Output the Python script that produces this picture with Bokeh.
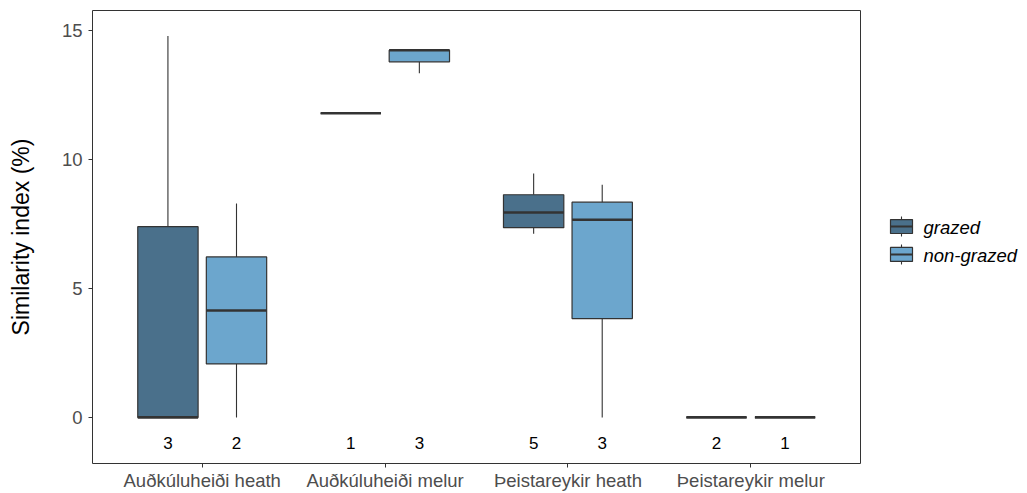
import numpy as np
from bokeh.plotting import figure
from bokeh.layouts import row
from bokeh.models import Range1d, FixedTicker, ColumnDataSource
from bokeh.core.properties import value
from bokeh.embed import file_html
from bokeh.resources import INLINE

# ---------------- data ----------------
sites = ["Auðkúluheiði heath", "Auðkúluheiði melur", "Þeistareykir heath", "Þeistareykir melur"]
treatments = ["grazed", "non-grazed"]
colors = ["#4A708B", "#6CA6CD"]

grazed_values = [
    [0.0, 0.0, 14.8],
    [11.8],
    [7.13, 7.36, 7.95, 8.64, 9.46],
    [0.0, 0.0],
]
nongrazed_values = [
    [0.0, 8.3],
    [13.35, 14.25, 14.25],
    [0.0, 7.67, 9.03],
    [0.0],
]
y_ticks = [0, 5, 10, 15]
y_title = "Similarity index (%)"
count_label_y = -1.0

FONT = "Liberation Sans"
LINE = "#333333"
TOP, BOTTOM = 10, 28   # shared borders so both frames line up


def box_stats(vals):
    v = np.sort(np.asarray(vals, dtype=float))
    q1, med, q3 = np.percentile(v, [25, 50, 75])
    iqr = q3 - q1
    lo = v[v >= q1 - 1.5 * iqr].min()
    hi = v[v <= q3 + 1.5 * iqr].max()
    return q1, med, q3, lo, hi


# ---------------- main panel ----------------
p = figure(width=862, height=493, output_backend="svg", toolbar_location=None,
           x_range=Range1d(0.4, 4.6), y_range=Range1d(-1.79, 15.79),
           min_border_left=92, min_border_right=2, min_border_top=TOP, min_border_bottom=BOTTOM)
p.background_fill_color = "white"
p.border_fill_color = "white"
p.outline_line_color = LINE
p.outline_line_width = 1
p.xgrid.visible = False
p.ygrid.visible = False

dodge = [-0.1875, 0.1875]
box_w = 0.33
for t, (name, vals_list, col) in enumerate(zip(treatments, [grazed_values, nongrazed_values], colors)):
    xs, q1s, meds, q3s, los, his, ns = [], [], [], [], [], [], []
    for i, vals in enumerate(vals_list):
        q1, med, q3, lo, hi = box_stats(vals)
        xs.append(i + 1 + dodge[t])
        q1s.append(q1); meds.append(med); q3s.append(q3); los.append(lo); his.append(hi)
        ns.append(str(len(vals)))
    src = ColumnDataSource(dict(
        x=xs, left=[x - box_w / 2 for x in xs], right=[x + box_w / 2 for x in xs],
        q1=q1s, med=meds, q3=q3s, lo=los, hi=his, n=ns,
        ylab=[count_label_y] * len(xs)))
    p.segment(x0="x", x1="x", y0="q3", y1="hi", source=src, line_color=LINE, line_width=1.1)
    p.segment(x0="x", x1="x", y0="q1", y1="lo", source=src, line_color=LINE, line_width=1.1)
    p.quad(left="left", right="right", bottom="q1", top="q3", source=src,
           fill_color=col, line_color=LINE, line_width=1.2)
    p.segment(x0="left", x1="right", y0="med", y1="med", source=src,
              line_color=LINE, line_width=2.6)
    p.text(x="x", y="ylab", text="n", source=src, text_align="center", text_baseline="middle",
           text_font=value(FONT), text_font_size="17px", text_color="black")

# axes
p.xaxis.ticker = FixedTicker(ticks=[1, 2, 3, 4])
p.xaxis.major_label_overrides = {i + 1: s for i, s in enumerate(sites)}
p.yaxis.ticker = FixedTicker(ticks=y_ticks)
for ax in (p.xaxis[0], p.yaxis[0]):
    ax.axis_line_color = None
    ax.major_tick_line_color = LINE
    ax.major_tick_out = 4
    ax.major_tick_in = 0
    ax.minor_tick_line_color = None
    ax.major_label_text_font = FONT
    ax.major_label_text_font_size = "18.5px"
    ax.major_label_text_color = "#4D4D4D"
p.xaxis.major_label_standoff = 2
p.yaxis.major_label_standoff = 6
p.yaxis.axis_label = y_title
p.yaxis.axis_label_text_font = FONT
p.yaxis.axis_label_text_font_size = "23px"
p.yaxis.axis_label_text_font_style = "normal"
p.yaxis.axis_label_text_color = "black"
p.yaxis.axis_label_standoff = 25

# ---------------- legend panel (pixel space, y = page pixels) ----------------
LW, LH = 165, 493
lg = figure(width=LW, height=LH, output_backend="svg", toolbar_location=None,
            x_range=Range1d(0, LW), y_range=Range1d(LH - BOTTOM, TOP),
            min_border_left=0, min_border_right=0, min_border_top=TOP, min_border_bottom=BOTTOM)
lg.axis.visible = False
lg.grid.visible = False
lg.outline_line_color = None
lg.background_fill_color = "white"
lg.border_fill_color = "white"

key_x0, key_x1 = 28, 50          # key box left/right (px)
key_cy0, key_step = 227, 28      # first key centre / spacing (px)
key_half_box, key_half_whisk = 7, 10
label_x = 61

kc = [key_cy0 + k * key_step for k in range(len(treatments))]
ksrc = ColumnDataSource(dict(
    cy=kc, top=[c - key_half_box for c in kc], bot=[c + key_half_box for c in kc],
    wt=[c - key_half_whisk for c in kc], wb=[c + key_half_whisk for c in kc],
    xm=[(key_x0 + key_x1) / 2] * len(kc), x0=[key_x0] * len(kc), x1=[key_x1] * len(kc),
    lx=[label_x] * len(kc), ly=[c + 1 for c in kc],
    color=colors, label=treatments))
lg.segment(x0="xm", x1="xm", y0="wt", y1="wb", source=ksrc, line_color=LINE, line_width=1.1)
lg.quad(left="x0", right="x1", top="top", bottom="bot", source=ksrc,
        fill_color="color", line_color=LINE, line_width=1.2)
lg.segment(x0="x0", x1="x1", y0="cy", y1="cy", source=ksrc, line_color=LINE, line_width=2.0)
lg.text(x="lx", y="ly", text="label", source=ksrc, text_align="left", text_baseline="middle",
        text_font=value(FONT), text_font_size="18.5px", text_font_style="italic", text_color="black")

layout = row(p, lg, spacing=0)
open("out.html", "w").write(file_html(layout, INLINE))
